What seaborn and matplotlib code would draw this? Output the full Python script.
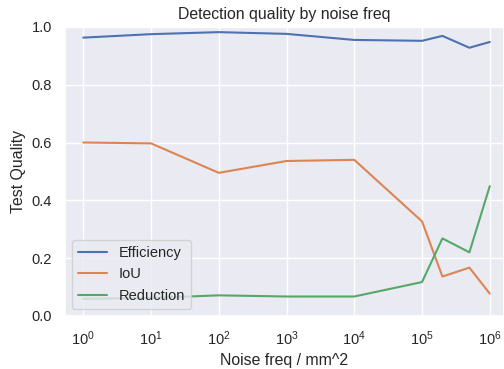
import matplotlib
matplotlib.use("Agg")
import matplotlib.pyplot as plt
import seaborn as sns
import pandas as pd

noise_freq = [1, 10, 100, 1000, 10000, 100000, 200000, 500000, 1000000]
efficiency = [0.963, 0.975, 0.982, 0.976, 0.955, 0.952, 0.969, 0.928, 0.948]
iou = [0.600, 0.597, 0.495, 0.536, 0.540, 0.327, 0.136, 0.167, 0.077]
reduction = [0.059, 0.062, 0.071, 0.067, 0.067, 0.117, 0.268, 0.220, 0.449]

sns.set_theme(style="darkgrid")
plt.rcParams["font.family"] = ["Liberation Sans", "DejaVu Sans"]

df = pd.DataFrame({
    "Noise freq": noise_freq * 3,
    "value": efficiency + iou + reduction,
    "metric": ["Efficiency"] * 9 + ["IoU"] * 9 + ["Reduction"] * 9,
})

fig, ax = plt.subplots(figsize=(5.04, 3.69), dpi=100)
sns.lineplot(data=df, x="Noise freq", y="value", hue="metric", ax=ax)
ax.set_xscale("log")
ax.set_xlim(10 ** -0.27, 10 ** 6.21)
ax.set_ylim(0, 1)
ax.tick_params(labelsize=10.5)
ax.set_title("Detection quality by noise freq", fontsize=11.4)
ax.set_xlabel("Noise freq / mm^2", fontsize=11.4)
ax.set_ylabel("Test Quality", fontsize=11.4)
ax.legend(loc="lower left", title=None, fontsize=10.5)
fig.subplots_adjust(left=0.129, right=1.0, top=0.927, bottom=0.144)
fig.savefig("out.png", dpi=100)
